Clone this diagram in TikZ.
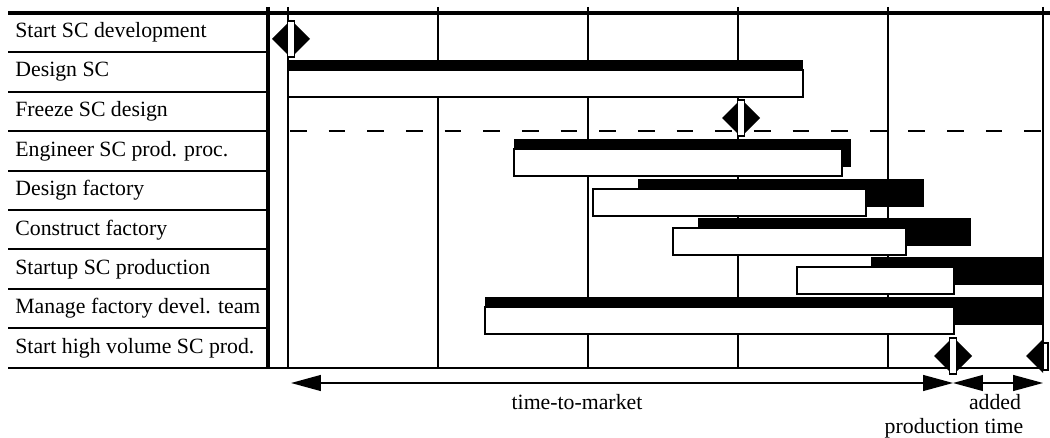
\documentclass[tikz,border=0pt]{standalone}
\usepackage{fontspec}
\setmainfont{Liberation Serif}
\usetikzlibrary{arrows.meta,positioning,calc}

\begin{document}
\begin{tikzpicture}[x=0.02cm, y=-0.02cm,
    font=\fontsize{12.4}{14}\selectfont,
    rowlabel/.style={anchor=west, inner sep=4pt},
    rowline/.style={line width=1.1pt},
    gridline/.style={line width=0.9pt},
    whitebar/.style={draw=black, fill=white, line width=0.8pt},
    bigarrow/.style={line width=0.9pt, {Triangle[length=17pt,width=9pt]}-{Triangle[length=17pt,width=9pt]}},
]
\useasboundingbox (0,0) rectangle (1050,438);

\def\rowh{39.4}
\def\ytop{13}

% task names
\foreach \txt [count=\i] in {Start SC development, Design SC, Freeze SC design,
    Engineer SC prod. proc., Design factory, Construct factory,
    Startup SC production, Manage factory devel. team, Start high volume SC prod.}
  \node[rowlabel] (task\i) at (8,{\ytop+\rowh*(\i-0.5)}) {\txt};

\foreach \i in {1,...,8}
  \draw[rowline] (8,{\ytop+\rowh*\i}) -- (268,{\ytop+\rowh*\i});

% time grid
\foreach \x in {288,438,588,738,888,1043}
  \draw[gridline] (\x,7) -- (\x,368);
\draw[line width=1.8pt] (268,7) -- (268,368);
\draw[line width=1.8pt] (8,\ytop) -- (1050,\ytop);
\draw[rowline] (8,368) -- (1045,368);
\draw[line width=0.9pt, dash pattern=on 9.5pt off 12.5pt] (290,131) -- (1043,131);

% bars: top / dark from / dark to / white from / white to
\foreach \t/\da/\db/\wa/\wb in {60/288/803/288/803, 139/514/851/514/842,
    179/638/924/593/866, 218/698/971/673/906, 257/871/1043/797/954, 297/485/1043/485/954} {
  \fill[black] (\da,\t) rectangle (\db,\t+28);
  \draw[whitebar] (\wa,\t+10) rectangle (\wb,\t+37);
}

% milestones
\foreach \mx/\my in {291/39, 741/118, 953/356} {
  \fill[black] (\mx-19,\my) -- (\mx,\my-19) -- (\mx+19,\my) -- (\mx,\my+19) -- cycle;
  \draw[whitebar] (\mx-3.5,\my-18) rectangle (\mx+3.5,\my+18);
}
\fill[black] (1026,356) -- (1043,339) -- (1043,373) -- cycle;
\draw[whitebar] (1043,343) rectangle (1048,370);

% time spans
\coordinate (ttmstart) at (291,383);
\coordinate (ttmend) at (953,383);
\coordinate (aptend) at (1043,383);
\draw[bigarrow] (ttmstart) -- (ttmend);
\draw[bigarrow] (ttmend) -- (aptend);
\node (ttm) at (577,402) {time-to-market};
\node (added) at (995,402) {added};
\node (prodtime) at (954,428) {production time};
\end{tikzpicture}
\end{document}
